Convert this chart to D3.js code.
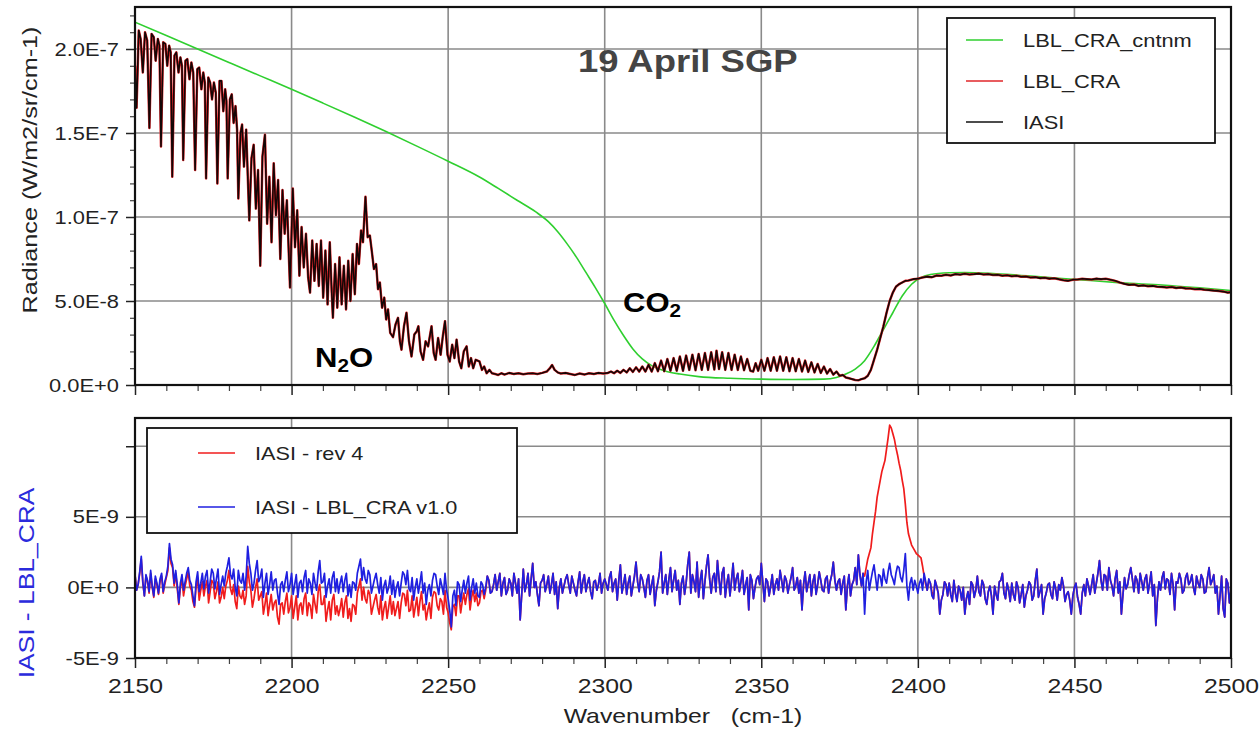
<!DOCTYPE html>
<html>
<head>
<meta charset="utf-8">
<script src="https://cdnjs.cloudflare.com/ajax/libs/d3/7.8.5/d3.min.js"></script>
<style>
  body { margin: 0; background: #fff; }
  svg { display: block; font-family: "Liberation Sans", Arial, Helvetica, sans-serif; }
</style>
</head>
<body>
<svg id="chart" width="1260" height="733"></svg>
<script>
// ---- data ----
const wnTicks = [2150, 2200, 2250, 2300, 2350, 2400, 2450, 2500];
const radTicks = [0, 5e-8, 1e-7, 1.5e-7, 2e-7];
const radTickLabels = ['0.0E+0', '5.0E-8', '1.0E-7', '1.5E-7', '2.0E-7'];
const diffTicks = [-5e-9, 0, 5e-9, 1e-8];
const diffTickLabels = ['-5E-9', '0E+0', '5E-9', ''];

const RAD_UNIT = 1e-8;   // top panel values in 1E-8 W/m2/sr/cm-1
const DIFF_UNIT = 1e-9;  // bottom panel values in 1E-9

// IASI spectrum [wavenumber, radiance]
const iasi = [
  [2150.0, 19.0], [2150.5, 16.5], [2151.2, 21.1], [2151.8, 20.6], [2152.5, 18.6], [2153.2, 21.0],
  [2153.9, 20.5], [2154.6, 15.3], [2155.3, 20.9], [2156.0, 20.7], [2156.6, 19.3], [2157.3, 20.6],
  [2157.8, 20.2], [2158.3, 14.2], [2159.0, 20.4], [2159.7, 20.3], [2160.3, 19.0], [2160.9, 20.2],
  [2161.4, 19.8], [2161.9, 12.4], [2162.6, 19.6], [2163.2, 19.8], [2163.9, 18.6], [2164.5, 19.5],
  [2165.0, 19.0], [2165.4, 13.4], [2166.1, 19.3], [2166.7, 19.4], [2167.4, 18.2], [2168.0, 19.2],
  [2168.6, 18.6], [2169.2, 12.8], [2169.9, 18.8], [2170.5, 18.9], [2171.2, 17.6], [2171.8, 18.6],
  [2172.3, 18.0], [2172.7, 12.3], [2173.4, 18.3], [2174.0, 18.0], [2174.6, 17.0], [2175.2, 18.0],
  [2175.8, 17.4], [2176.3, 12.0], [2177.0, 18.1], [2177.6, 18.1], [2178.2, 16.3], [2178.8, 17.6],
  [2179.2, 16.9], [2179.6, 12.3], [2180.3, 17.0], [2180.9, 17.3], [2181.5, 15.6], [2182.1, 16.6],
  [2182.6, 15.2], [2183.0, 11.1], [2183.7, 15.0], [2184.2, 15.5], [2184.8, 13.0], [2185.5, 15.2],
  [2186.5, 9.8], [2187.2, 13.5], [2187.9, 14.3], [2188.6, 10.5], [2189.3, 12.8], [2190.0, 7.1],
  [2190.7, 13.6], [2191.5, 14.9], [2192.2, 9.6], [2192.9, 12.4], [2193.6, 8.5], [2194.3, 13.2],
  [2195.0, 10.1], [2195.7, 12.2], [2196.4, 7.5], [2197.1, 11.6], [2197.8, 9.0], [2198.5, 11.0],
  [2199.5, 5.8], [2200.4, 11.7], [2201.1, 8.2], [2201.8, 10.4], [2202.5, 6.5], [2203.2, 9.4],
  [2203.9, 7.0], [2204.6, 9.0], [2205.3, 6.4], [2205.9, 5.5], [2206.6, 8.6], [2207.3, 6.2],
  [2208.0, 8.4], [2208.7, 5.9], [2209.4, 8.6], [2210.1, 5.2], [2210.8, 8.0], [2211.5, 4.8],
  [2212.2, 8.5], [2212.8, 5.6], [2213.2, 4.0], [2213.9, 7.2], [2214.6, 4.6], [2215.3, 7.6],
  [2216.0, 4.8], [2216.7, 7.1], [2217.4, 4.5], [2218.1, 7.4], [2218.8, 5.0], [2219.5, 7.8],
  [2220.2, 5.4], [2220.9, 8.4], [2221.5, 7.2], [2222.2, 9.2], [2222.8, 8.5], [2223.6, 11.2],
  [2224.3, 8.8], [2225.0, 8.9], [2225.6, 8.0], [2226.3, 6.9], [2227.0, 7.2], [2227.6, 5.7],
  [2228.2, 6.1], [2228.9, 4.6], [2229.6, 5.2], [2230.2, 3.9], [2230.8, 4.5], [2231.5, 3.1],
  [2232.4, 2.85], [2233.2, 3.6], [2234.0, 4.0], [2234.6, 2.6], [2235.1, 2.1], [2235.9, 3.5],
  [2236.7, 4.3], [2237.5, 2.6], [2238.3, 1.7], [2239.2, 3.0], [2240.0, 3.2], [2240.5, 3.5],
  [2241.2, 2.0], [2242.0, 1.5], [2242.8, 2.6], [2243.6, 2.3], [2244.7, 3.5], [2245.4, 1.9],
  [2246.0, 1.5], [2246.8, 2.8], [2247.6, 1.8], [2248.3, 2.9], [2249.0, 3.8], [2249.8, 1.8],
  [2250.5, 1.4], [2251.3, 2.4], [2252.0, 1.6], [2252.7, 2.7], [2253.5, 1.4], [2254.2, 1.0],
  [2255.0, 2.0], [2255.9, 2.3], [2256.6, 1.1], [2257.3, 1.6], [2258.0, 1.0], [2258.8, 1.5],
  [2260.0, 1.4], [2260.8, 0.9], [2261.5, 1.1], [2262.3, 0.7], [2263.2, 0.9], [2264.0, 0.7],
  [2265.0, 0.65], [2266.0, 0.6], [2267.0, 0.7], [2268.0, 0.62], [2269.5, 0.72], [2271.0, 0.66],
  [2272.5, 0.7], [2274.0, 0.64], [2275.5, 0.68], [2277.0, 0.7], [2278.5, 0.65], [2280.0, 0.72],
  [2281.5, 0.8], [2282.5, 1.0], [2283.2, 1.19], [2284.0, 0.9], [2285.0, 0.75], [2286.0, 0.68],
  [2287.5, 0.72], [2289.0, 0.66], [2290.5, 0.6], [2292.0, 0.68], [2293.5, 0.62], [2295.0, 0.7],
  [2296.5, 0.66], [2298.0, 0.72], [2299.5, 0.68], [2301.0, 0.72], [2302.0, 0.8], [2303.0, 0.7],
  [2304.0, 0.85], [2305.0, 0.72], [2306.0, 0.9], [2307.0, 0.75], [2308.0, 1.0], [2309.0, 0.78],
  [2310.0, 1.05], [2311.0, 0.8], [2312.0, 1.1], [2313.0, 0.8], [2314.0, 1.2], [2315.0, 0.8],
  [2316.0, 1.3], [2317.0, 0.82], [2318.0, 1.45], [2319.0, 0.82], [2320.0, 1.55], [2321.0, 0.85],
  [2322.0, 1.6], [2323.0, 0.85], [2324.0, 1.7], [2325.0, 0.85], [2326.0, 1.75], [2327.0, 0.9],
  [2328.0, 1.8], [2329.0, 0.88], [2330.0, 1.85], [2331.0, 0.9], [2332.0, 1.9], [2333.0, 0.9],
  [2334.0, 1.95], [2335.0, 0.92], [2335.7, 2.04], [2336.5, 0.95], [2337.5, 1.95], [2338.5, 0.9],
  [2339.5, 1.9], [2340.5, 0.9], [2341.5, 1.8], [2342.5, 0.9], [2343.5, 1.7], [2344.5, 0.88],
  [2345.5, 1.55], [2346.5, 0.85], [2347.4, 0.8], [2348.2, 1.3], [2349.0, 0.85], [2350.0, 1.5],
  [2351.0, 0.85], [2352.0, 1.6], [2353.0, 0.85], [2354.0, 1.65], [2355.0, 0.85], [2356.0, 1.7],
  [2357.0, 0.85], [2358.0, 1.65], [2359.0, 0.82], [2360.0, 1.6], [2361.0, 0.82], [2362.0, 1.55],
  [2363.0, 0.8], [2364.0, 1.45], [2365.0, 0.78], [2366.0, 1.35], [2367.0, 0.75], [2368.0, 1.25],
  [2369.0, 0.72], [2370.0, 1.1], [2371.0, 0.68], [2372.0, 0.95], [2373.0, 0.62], [2374.0, 0.8],
  [2375.0, 0.55], [2376.0, 0.6], [2377.0, 0.45], [2378.0, 0.4], [2379.0, 0.35], [2380.0, 0.3],
  [2381.0, 0.28], [2382.0, 0.35], [2383.0, 0.4], [2384.0, 0.55], [2385.0, 0.9], [2386.0, 1.5],
  [2387.0, 2.1], [2388.0, 2.8], [2389.0, 3.5], [2390.0, 4.3], [2391.0, 5.0], [2392.0, 5.5],
  [2393.0, 5.85], [2394.0, 6.0], [2395.0, 6.1], [2396.0, 6.2], [2397.0, 6.22], [2398.5, 6.3],
  [2400.0, 6.33], [2401.5, 6.4], [2403.0, 6.45], [2404.5, 6.42], [2406.0, 6.52], [2407.5, 6.5],
  [2409.0, 6.56], [2410.5, 6.52], [2412.0, 6.6], [2413.5, 6.57], [2415.0, 6.62], [2416.5, 6.58],
  [2418.0, 6.6], [2419.5, 6.63], [2421.0, 6.58], [2422.5, 6.6], [2424.0, 6.55], [2425.5, 6.56],
  [2427.0, 6.5], [2428.5, 6.53], [2430.0, 6.47], [2431.5, 6.5], [2433.0, 6.44], [2434.5, 6.46],
  [2436.0, 6.4], [2437.5, 6.42], [2439.0, 6.36], [2440.5, 6.38], [2442.0, 6.33], [2443.5, 6.35],
  [2445.0, 6.3], [2446.5, 6.24], [2448.0, 6.2], [2449.5, 6.27], [2451.0, 6.28], [2452.5, 6.32],
  [2454.0, 6.3], [2455.5, 6.28], [2457.0, 6.33], [2458.5, 6.3], [2460.0, 6.32], [2461.5, 6.27],
  [2463.0, 6.2], [2464.5, 6.1], [2466.0, 6.02], [2467.5, 5.96], [2469.0, 5.98], [2470.5, 5.9],
  [2472.0, 5.93], [2473.5, 5.88], [2475.0, 5.9], [2476.5, 5.85], [2478.0, 5.84], [2479.5, 5.8],
  [2481.0, 5.83], [2482.5, 5.78], [2484.0, 5.8], [2485.5, 5.75], [2487.0, 5.74], [2488.5, 5.7],
  [2490.0, 5.72], [2491.5, 5.67], [2493.0, 5.65], [2494.5, 5.62], [2496.0, 5.6], [2497.5, 5.56],
  [2499.0, 5.5], [2500.0, 5.52]
];
// LBL_CRA lies on the IASI trace at this scale
const lblCra = iasi;

// LBL_CRA_cntnm [wavenumber, radiance]
const lblCntnm = [
  [2150, 21.6], [2160, 20.8], [2170, 20.0], [2180, 19.2], [2190, 18.4], [2200, 17.6],
  [2210, 16.78], [2220, 15.95], [2230, 15.1], [2240, 14.22], [2250, 13.32], [2260, 12.38],
  [2266, 11.7], [2272, 11.0], [2278, 10.3], [2282, 9.72], [2285, 9.12], [2288, 8.4],
  [2291, 7.6], [2294, 6.7], [2297, 5.8], [2300, 4.85], [2303, 3.85], [2306, 2.95],
  [2309, 2.15], [2312, 1.55], [2315, 1.15], [2319, 0.85], [2324, 0.65], [2330, 0.5],
  [2340, 0.4], [2350, 0.35], [2360, 0.33], [2370, 0.35], [2374, 0.45], [2377, 0.65],
  [2380, 0.95], [2383, 1.45], [2386, 2.3], [2389, 3.3], [2392, 4.3], [2395, 5.3],
  [2398, 6.0], [2401, 6.4], [2404, 6.58], [2410, 6.68], [2415, 6.7], [2425, 6.62],
  [2435, 6.5], [2445, 6.35], [2455, 6.22], [2465, 6.08], [2478, 5.95], [2490, 5.78],
  [2500, 5.62]
];

// residuals on a 0.5 cm-1 grid from 2150: whole-number wavenumbers in one list,
// the half-way points (2150.5, 2151.5, ...) in a second one
const diffStart = 2150;
const diffStep = 0.5;
// IASI - LBL_CRA v1.0 at 2150, 2151, ... 2500
const diffLbl = [
  0.9, 0.2, 2.2, -0.6, 0.5, 1.2, -0.6, 0.3, 0.6, -0.3,
  0.8, 3.1, 1.6, 1.2, -1.1, 0.9, 0.4, 1.4, 0.2, -1.3,
  1.1, 0.3, -0.1, 1.2, 0.4, 1.0, 0.6, -0.5, 0.8, 1.0,
  2.1, 0.6, 0.0, 1.2, 0.3, -0.2, 2.9, 1.0, 0.3, 1.9,
  0.7, -0.7, 1.0, 0.2, -0.2, 0.6, -1.2, 0.4, 0.5, -0.3,
  1.0, 0.2, -0.7, 0.5, 0.7, -0.4, 0.3, 1.0, -0.2, 1.9,
  0.4, -0.7, 0.6, 0.7, -0.3, -0.4, 0.8, 0.5, -0.6, -0.7,
  0.3, 1.0, 2.0, 1.4, 0.3, 0.9, 0.1, 1.0, -0.4, -0.9,
  0.5, 0.0, -0.5, -0.7, 0.4, 0.3, 0.9, 1.2, -0.3, -0.9,
  0.6, 0.3, -0.4, -1.2, 0.2, 0.5, 0.9, -0.5, 0.1, 1.0,
  -0.8, -2.8, -0.2, 0.4, -1.0, 0.5, 0.3, -0.9, 0.6, 0.3,
  -0.7, 0.2, 0.0, 0.5, -0.3, 0.9, 0.4, -0.6, 0.7, -0.2,
  0.3, 1.0, -0.4, -2.3, 1.3, 0.2, -0.6, 1.7, 0.4, -1.3,
  0.5, -0.3, 0.8, 0.2, -0.5, -1.5, 0.6, 0.1, 0.9, -0.4,
  0.3, -0.6, 1.1, 0.4, -0.3, 0.7, -0.8, 0.5, 0.2, -0.4,
  0.6, -0.2, 1.1, 0.3, -0.9, 1.6, 0.2, -0.5, 0.8, 0.1,
  1.8, -0.3, 0.6, -0.7, 0.9, 0.2, -1.3, 0.4, 2.5, 0.3,
  -0.5, 1.4, 0.5, -0.2, -1.2, 0.8, 0.3, 2.5, 0.9, -0.3,
  -0.7, 1.2, 0.4, 2.3, -0.4, 1.0, 1.9, -0.5, 1.4, 0.3,
  -0.6, 1.7, 0.6, -0.3, 1.2, 0.2, -1.6, 0.5, 0.0, 0.8,
  1.7, -1.0, 0.4, 0.1, -0.5, 0.6, 1.2, -0.3, 0.5, 0.2,
  1.4, 0.1, -0.4, -1.6, 1.1, 0.3, -0.6, 0.9, 0.2, 0.5,
  -0.3, 0.8, 0.4, 1.8, -0.2, 0.6, 0.3, -1.6, 0.9, 0.2,
  1.4, 2.3, 0.1, -1.9, 1.2, 0.5, 1.6, -0.2, 0.8, 1.3,
  0.3, 1.7, 0.6, 1.0, 1.4, 0.4, 2.4, -0.9, 0.7, 0.5,
  -0.4, 0.6, 1.0, -0.2, 0.3, -0.8, 0.1, -1.9, -0.5, 0.2,
  0.3, -1.0, -0.4, 0.1, -0.9, -1.9, -0.3, 0.4, -0.7, 0.8,
  -0.6, 0.2, -1.2, 0.1, -1.9, -0.5, 0.4, 1.0, -0.8, -0.2,
  0.3, -0.9, 0.0, -0.5, -1.4, -0.2, 0.2, -0.6, 1.3, -0.3,
  -1.9, -0.4, 0.3, -0.8, -0.1, 0.2, 0.7, -1.0, -0.3, -1.9,
  0.0, -0.7, -1.9, 0.2, 0.6, -0.5, 0.9, 0.3, 1.9, -0.2,
  0.8, 1.4, 0.1, 0.6, -0.4, -1.9, 0.7, 0.2, 1.4, -0.3,
  0.5, 1.0, -0.2, 0.9, 0.3, -0.6, -2.7, 0.4, 0.7, -0.1,
  0.5, 1.0, -1.6, 0.3, 0.6, -0.2, 1.0, 0.4, 0.0, 0.8,
  0.0, 0.6, -0.3, 1.4, 0.5, -0.4, -1.9, 0.8, -2.1, 0.3,
  -0.2
];
// IASI - LBL_CRA v1.0 at 2150.5, 2151.5, ... 2499.5
const diffLblMid = [
  -0.2, 1.1, 0.4, 0.9, -0.3, 0.1, 0.8, -0.4, 1.0, 0.4,
  1.5, 2.0, 0.3, 0.2, 0.3, -0.2, 1.0, 0.5, -0.6, 0.4,
  -0.3, 1.0, 0.8, -0.4, 1.3, -0.1, 1.3, 0.2, 0.1, 1.5,
  0.9, 1.3, -0.6, 0.5, 1.0, 0.8, 1.7, -0.2, 1.2, 0.4,
  1.3, 0.3, -0.5, 1.1, 0.5, -0.4, 0.2, -0.3, 1.1, 0.2,
  -0.5, 0.9, 0.3, -0.3, 1.2, 0.6, -0.5, 0.3, 1.1, 0.3,
  1.0, 0.1, -0.4, 1.1, 0.6, 0.3, -0.3, 1.0, 0.2, 0.4,
  -0.2, 1.5, 0.5, 0.6, 1.2, -0.4, 0.6, 0.2, 0.7, 0.1,
  -0.4, 0.8, 0.5, 0.0, -0.6, 1.1, 0.2, -0.1, 0.7, 0.0,
  -0.4, 1.1, 0.3, -0.2, -0.6, 1.0, 0.1, 0.6, -0.5, -0.2,
  -1.6, -0.6, -1.3, 0.2, -0.2, -0.4, 0.8, 0.0, -0.4, -0.6,
  0.4, -0.5, 0.8, -0.4, 0.2, -0.2, 1.0, 0.3, -0.5, 0.6,
  -0.6, 0.3, 0.6, -0.5, -0.3, 1.0, 0.6, 0.0, -0.5, 0.3,
  0.9, 0.2, -0.4, 1.0, 0.4, 0.0, -0.4, 0.6, 0.2, 0.8,
  -0.2, 0.4, -0.4, 0.9, 0.3, -0.3, 0.4, -0.2, 1.0, 0.3,
  0.2, 0.7, -0.3, 0.6, 0.5, -0.4, 0.9, 0.3, -0.6, 0.8,
  0.4, 0.9, 0.0, 0.5, -0.5, 0.8, -0.2, 1.1, -0.4, 0.9,
  0.6, -0.3, 1.2, 0.5, 0.3, -0.5, 1.6, -0.4, 0.4, 1.8,
  0.5, -0.8, 1.5, 0.6, 0.7, -0.3, 0.6, 1.0, -0.7, 0.9,
  0.5, -0.2, 1.0, 0.4, -0.5, 0.7, 0.9, -0.8, 0.6, 0.2,
  0.3, 0.6, -0.6, 0.9, 0.2, -0.2, 0.5, 0.8, -0.4, 0.7,
  -0.2, 0.7, 0.5, 0.2, -0.3, 0.9, 0.4, -0.5, 1.1, -0.2,
  0.6, -0.4, 0.9, 0.5, 0.4, -0.5, 0.8, 0.1, -0.6, 0.5,
  0.2, 0.9, 1.0, 0.4, -0.2, 1.1, 0.7, 0.9, 0.1, 0.6,
  1.1, 0.9, 0.2, 1.5, 0.7, 1.2, 0.1, 0.3, -0.2, 0.1,
  0.3, -0.2, 0.4, 0.6, -0.6, 0.5, -0.4, -0.9, 0.4, -0.6,
  -0.5, 0.5, -1.0, -0.2, 0.0, -0.8, -1.2, 0.2, -0.2, -0.3,
  0.5, -0.8, -0.3, -0.6, 0.1, -0.9, 0.5, -0.4, 0.3, -1.0,
  -0.5, 0.4, -1.1, 0.2, -0.6, 0.4, -0.9, 0.5, -0.7, 0.2,
  -0.8, 0.2, -0.5, 0.4, -0.9, -0.2, 0.1, -0.5, -0.9, -0.6,
  0.3, -1.2, -0.4, -0.6, 0.1, 0.2, -0.4, 1.0, 0.5, 0.9,
  -0.2, 0.5, -0.6, 1.2, 0.4, -0.5, -0.1, 0.9, 0.6, 0.8,
  -0.4, 0.4, 0.6, -0.4, 1.1, 0.2, -0.8, -0.2, 1.1, 0.6,
  -0.5, 0.2, 0.4, 1.0, -0.4, 0.7, 0.2, 0.9, -0.5, 0.3,
  0.9, -0.4, 0.7, 0.2, 0.9, 0.1, -0.6, -1.5, 0.6, -1.1
];
// IASI - rev 4 where it leaves the v1.0 residual, 2150 ... 2262
const rev4Low = [
  0.9, 0.2, 2.0, -0.6, 0.4, 1.0, -0.7, 0.2, 0.4, -0.4,
  0.7, 2.8, 1.4, 1.0, -1.2, 0.6, 0.1, 1.1, -0.2, -1.4,
  0.6, -0.2, -0.6, 0.5, -0.3, 0.3, -0.3, -1.1, 0.0, 0.1,
  1.2, -0.5, -1.0, 0.1, -0.8, -1.2, 1.5, -0.2, -0.8, 0.6,
  -0.6, -1.9, -0.4, -1.2, -1.6, -0.9, -2.6, -1.1, -1.0, -1.8,
  -0.6, -1.4, -2.3, -1.1, -0.8, -2.0, -1.3, -0.5, -1.8, 0.2,
  -1.2, -2.4, -1.0, -0.9, -1.9, -2.0, -0.8, -1.1, -2.2, -2.4,
  -1.3, -0.4, 0.6, 0.0, -1.1, -0.5, -1.4, -0.5, -1.9, -2.3,
  -1.0, -1.4, -1.9, -2.0, -1.0, -1.1, -0.5, -0.2, -1.6, -2.1,
  -0.7, -1.0, -1.6, -2.3, -1.1, -0.7, -0.4, -1.6, -1.0, -0.2,
  -1.8, -3.0, -1.2, -0.6, -1.8, -0.4, -0.5, -1.6, -0.2, -0.4,
  -1.1, -0.2, -0.2
];
// 2150.5 ... 2261.5
const rev4LowMid = [
  -0.2, 1.0, 0.3, 0.8, -0.4, 0.0, 0.6, -0.5, 0.8, 0.2,
  1.2, 1.7, 0.1, -0.1, 0.0, -0.6, 0.6, 0.1, -1.0, 0.0,
  -0.9, 0.4, 0.1, -1.1, 0.5, -0.8, 0.4, -0.7, -0.8, 0.5,
  -0.1, 0.2, -1.5, -0.6, -0.2, -0.6, 0.4, -1.4, 0.0, -0.9,
  -0.3, -1.2, -2.0, -0.5, -1.1, -2.1, -1.2, -1.9, -0.4, -1.4,
  -2.2, -0.6, -1.3, -1.9, -0.4, -1.1, -2.2, -1.2, -0.3, -1.2,
  -0.6, -1.6, -2.3, -0.5, -1.3, -1.5, -2.1, -0.6, -1.5, -1.2,
  -1.9, 0.1, -0.9, -0.8, -0.2, -1.9, -0.9, -1.4, -0.6, -1.5,
  -2.2, -0.6, -1.0, -1.5, -2.2, -0.4, -1.3, -1.7, -0.6, -1.4,
  -2.0, -0.3, -1.2, -1.6, -2.2, -0.3, -1.3, -0.8, -1.9, -1.4,
  -2.5, -1.4, -2.0, -0.6, -1.0, -1.2, -0.1, -0.7, -1.0, -1.3,
  -0.3, -0.8
];
// IASI - rev 4 bump, 2383 ... 2405 and 2383.5 ... 2404.5
const rev4Peak = [
  0.8, 2.0, 2.8, 4.6, 6.4, 7.6, 8.6, 9.8, 11.5, 10.9,
  9.9, 8.8, 7.6, 5.9, 3.8, 3.0, 2.6, 2.3, 2.1, 0.8,
  -0.2, 0.3, -0.8
];
const rev4PeakMid = [
  1.4, 2.4, 3.8, 5.4, 7.0, 8.2, 9.0, 10.6, 11.3, 10.5,
  9.4, 8.3, 7.0, 4.6, 3.4, 2.8, 2.4, 2.2, 1.5, 0.2,
  0.5, -0.3
];

function interleave(a, b) {
  return d3.merge(a.map((v, i) => (i < b.length ? [v, b[i]] : [v])));
}
const diffLblAll = interleave(diffLbl, diffLblMid);            // 2150 ... 2500
// elsewhere rev 4 sits on the v1.0 residual
const diffRev4All = interleave(rev4Low, rev4LowMid)             // 2150 ... 2262
  .concat(diffLblAll.slice(225, 466),                           // 2262.5 ... 2382.5
    interleave(rev4Peak, rev4PeakMid),                          // 2383 ... 2405
    diffLblAll.slice(511));                                     // 2405.5 ... 2500

// ---- chart ----
const svg = d3.select('#chart');
const x = d3.scaleLinear().domain([2150, 2500]).range([135, 1231]);
const yTop = d3.scaleLinear().domain([0, 2.25e-7]).range([385, 7]);
const yBot = d3.scaleLinear().domain([-5e-9, 1.2e-8]).range([658, 418]);

const GRID = '#8a8a8a';
const minorWn = d3.range(2160, 2500, 10).filter(v => v % 50 !== 0);

// stretch glyphs a bit wider, the original type is broad
function widen(sel, k) {
  sel.each(function () {
    const w = this.getComputedTextLength();
    if (w > 0) {
      this.setAttribute('textLength', (w * k).toFixed(1));
      this.setAttribute('lengthAdjust', 'spacingAndGlyphs');
    }
  });
}

function grid(y, hLines) {
  const g = svg.append('g');
  g.selectAll('line.v').data(wnTicks.slice(1, -1)).join('line')
    .attr('x1', d => x(d)).attr('x2', d => x(d))
    .attr('y1', y.range()[1]).attr('y2', y.range()[0])
    .attr('stroke', GRID).attr('stroke-width', 1.6);
  g.selectAll('line.h').data(hLines).join('line')
    .attr('x1', x.range()[0]).attr('x2', x.range()[1])
    .attr('y1', d => y(d)).attr('y2', d => y(d))
    .attr('stroke', GRID).attr('stroke-width', 1.6);
}

function bottomAxis(y, labels) {
  const yPos = y.range()[0];
  const major = svg.append('g').attr('transform', `translate(0,${yPos})`)
    .call(d3.axisBottom(x).tickValues(wnTicks).tickSize(10).tickPadding(10)
      .tickFormat(labels ? d3.format('d') : () => ''));
  major.select('.domain').remove();
  major.selectAll('line').attr('stroke', '#222').attr('stroke-width', 1.5);
  major.selectAll('text').attr('font-size', 21).attr('fill', '#222')
    .attr('font-family', '"Liberation Sans", Arial, sans-serif')
    .call(widen, 1.18);
  const minor = svg.append('g').attr('transform', `translate(0,${yPos})`)
    .call(d3.axisBottom(x).tickValues(minorWn).tickSize(6).tickFormat(() => ''));
  minor.select('.domain').remove();
  minor.selectAll('line').attr('stroke', '#444').attr('stroke-width', 1.2);
}

function leftAxis(y, values, labels) {
  const g = svg.append('g').attr('transform', `translate(${x.range()[0]},0)`)
    .call(d3.axisLeft(y).tickValues(values).tickSize(9).tickPadding(7)
      .tickFormat((d, i) => labels[i]));
  g.select('.domain').remove();
  g.selectAll('line').attr('stroke', '#222').attr('stroke-width', 1.5);
  g.selectAll('text').attr('font-size', 19).attr('fill', '#222')
    .attr('font-family', '"Liberation Sans", Arial, sans-serif')
    .call(widen, 1.15);
}

function frame(y) {
  svg.append('rect')
    .attr('x', x.range()[0]).attr('y', y.range()[1])
    .attr('width', x.range()[1] - x.range()[0])
    .attr('height', y.range()[0] - y.range()[1])
    .attr('fill', 'none').attr('stroke', '#111').attr('stroke-width', 2.2);
}

function clip(id, y) {
  svg.append('clipPath').attr('id', id).append('rect')
    .attr('x', x.range()[0]).attr('y', y.range()[1])
    .attr('width', x.range()[1] - x.range()[0])
    .attr('height', y.range()[0] - y.range()[1]);
}

// ---------- top panel ----------
clip('clipTop', yTop);
grid(yTop, radTicks.slice(1));

const specLine = d3.line().x(d => x(d[0])).y(d => yTop(d[1] * RAD_UNIT));
const cntnmLine = d3.line().curve(d3.curveMonotoneX)
  .x(d => x(d[0])).y(d => yTop(d[1] * RAD_UNIT));

const topG = svg.append('g').attr('clip-path', 'url(#clipTop)');
topG.append('path').datum(lblCntnm).attr('d', cntnmLine)
  .attr('fill', 'none').attr('stroke', '#2fcf2f').attr('stroke-width', 1.6);
topG.append('path').datum(lblCra).attr('d', specLine)
  .attr('fill', 'none').attr('stroke', '#e0262a').attr('stroke-width', 2.5)
  .attr('stroke-linejoin', 'round');
topG.append('path').datum(iasi).attr('d', specLine)
  .attr('fill', 'none').attr('stroke', '#140606').attr('stroke-width', 1.6)
  .attr('stroke-linejoin', 'round');

// left minor ticks every 1E-8
const radMinor = d3.range(1, 23).filter(k => k % 5 !== 0).map(k => k * RAD_UNIT);
const radMinorG = svg.append('g').attr('transform', `translate(${x.range()[0]},0)`)
  .call(d3.axisLeft(yTop).tickValues(radMinor).tickSize(5).tickFormat(() => ''));
radMinorG.select('.domain').remove();
radMinorG.selectAll('line').attr('stroke', '#444').attr('stroke-width', 1.2);

leftAxis(yTop, radTicks, radTickLabels);
bottomAxis(yTop, false);
frame(yTop);

svg.append('text')
  .attr('transform', 'translate(37,170) rotate(-90)')
  .attr('text-anchor', 'middle').attr('font-size', 21).attr('fill', '#222')
  .text('Radiance (W/m2/sr/cm-1)')
  .call(widen, 1.2);

svg.append('text')
  .attr('x', 578).attr('y', 72)
  .attr('font-size', 32).attr('font-weight', 'bold').attr('fill', '#444')
  .text('19 April SGP')
  .call(widen, 1.14);

function molecule(px, py, main, sub, tail) {
  const t = svg.append('g').attr('transform', `translate(${px},${py}) scale(1.15,1)`)
    .append('text').attr('font-size', 27).attr('font-weight', 'bold').attr('fill', '#000');
  t.append('tspan').text(main);
  t.append('tspan').attr('font-size', 18).attr('dy', 5).text(sub);
  if (tail) t.append('tspan').attr('dy', -5).text(tail);
}
molecule(315, 367, 'N', '2', 'O');
molecule(623, 312, 'CO', '2', '');

// top legend
const legTop = [
  { name: 'LBL_CRA_cntnm', color: '#2fcf2f' },
  { name: 'LBL_CRA', color: '#e0262a' },
  { name: 'IASI', color: '#111' }
];
const legTopY = d3.scalePoint().domain(legTop.map(d => d.name)).range([40, 122]);
svg.append('rect').attr('x', 947).attr('y', 18).attr('width', 268).attr('height', 125)
  .attr('fill', '#fff').attr('stroke', '#111').attr('stroke-width', 1.8);
const lt = svg.append('g').selectAll('g').data(legTop).join('g')
  .attr('transform', d => `translate(0,${legTopY(d.name)})`);
lt.append('line').attr('x1', 966).attr('x2', 1003)
  .attr('stroke', d => d.color).attr('stroke-width', 1.6);
lt.append('text').attr('x', 1023).attr('y', 7).attr('font-size', 19).attr('fill', '#222')
  .text(d => d.name).call(widen, 1.15);

// ---------- bottom panel ----------
clip('clipBot', yBot);
grid(yBot, [0, 5e-9, 1e-8]);

const diffLine = d3.line()
  .x((d, i) => x(diffStart + i * diffStep)).y(d => yBot(d * DIFF_UNIT));
const botG = svg.append('g').attr('clip-path', 'url(#clipBot)');
botG.append('path').datum(diffRev4All).attr('d', diffLine)
  .attr('fill', 'none').attr('stroke', '#f01c1c').attr('stroke-width', 1.7)
  .attr('stroke-linejoin', 'round');
botG.append('path').datum(diffLblAll).attr('d', diffLine)
  .attr('fill', 'none').attr('stroke', '#1f1fe0').attr('stroke-width', 1.7)
  .attr('stroke-linejoin', 'round');

leftAxis(yBot, diffTicks, diffTickLabels);
bottomAxis(yBot, true);
frame(yBot);

svg.append('text')
  .attr('transform', 'translate(34,583) rotate(-90)')
  .attr('text-anchor', 'middle').attr('font-size', 22).attr('fill', '#2b2bdc')
  .text('IASI - LBL_CRA')
  .call(widen, 1.2);

svg.append('text')
  .attr('x', (x.range()[0] + x.range()[1]) / 2).attr('y', 723)
  .attr('text-anchor', 'middle').attr('font-size', 21).attr('fill', '#222')
  .attr('xml:space', 'preserve')
  .text('Wavenumber   (cm-1)')
  .call(widen, 1.18);

// bottom legend
const legBot = [
  { name: 'IASI - rev 4', color: '#f01c1c' },
  { name: 'IASI - LBL_CRA v1.0', color: '#1f1fe0' }
];
const legBotY = d3.scalePoint().domain(legBot.map(d => d.name)).range([453, 507]);
svg.append('rect').attr('x', 147).attr('y', 428).attr('width', 370).attr('height', 105)
  .attr('fill', '#fff').attr('stroke', '#111').attr('stroke-width', 1.8);
const lb = svg.append('g').selectAll('g').data(legBot).join('g')
  .attr('transform', d => `translate(0,${legBotY(d.name)})`);
lb.append('line').attr('x1', 198).attr('x2', 235)
  .attr('stroke', d => d.color).attr('stroke-width', 1.6);
lb.append('text').attr('x', 255).attr('y', 7).attr('font-size', 19).attr('fill', '#222')
  .text(d => d.name).call(widen, 1.14);
</script>
</body>
</html>
